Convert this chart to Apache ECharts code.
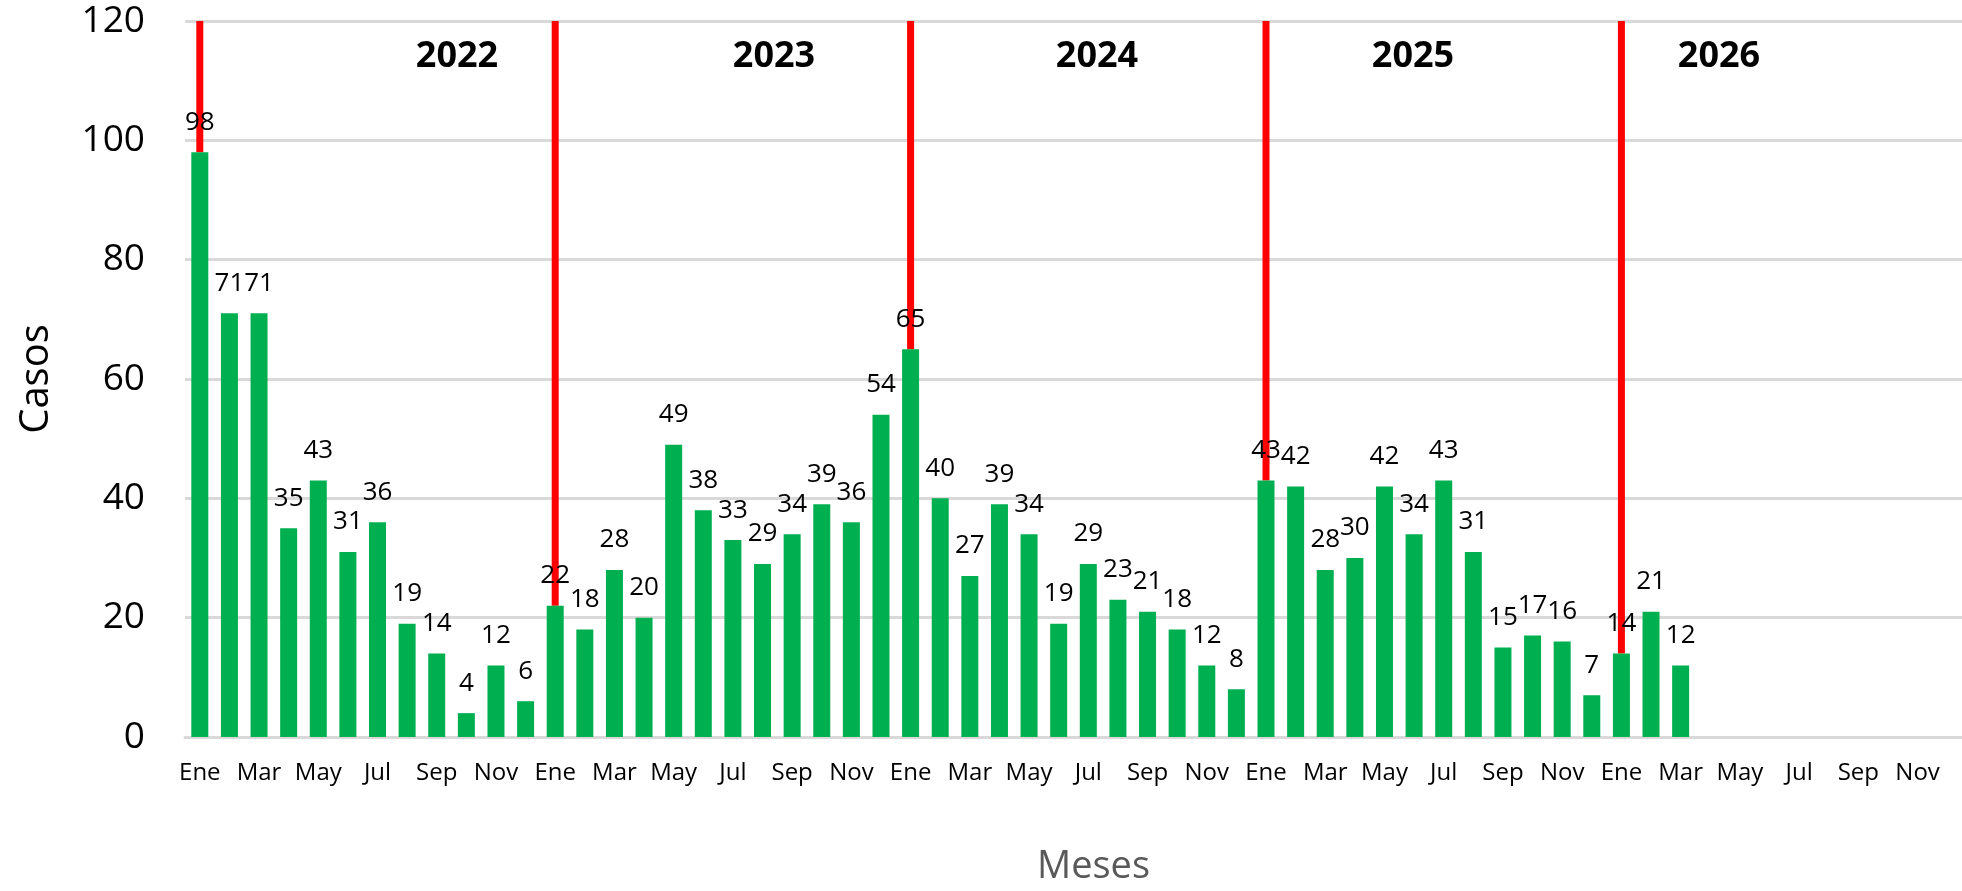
<!DOCTYPE html>
<html>
<head>
<meta charset="utf-8">
<script src="https://cdn.jsdelivr.net/npm/echarts@6/dist/echarts.min.js"></script>
<style>
html,body{margin:0;padding:0;background:#fff;}
#chart{width:1962px;height:891px;}
</style>
</head>
<body>
<div id="chart"></div>
<script>
// ---- data ----
const monthNames = ['Ene','Feb','Mar','Abr','May','Jun','Jul','Ago','Sep','Oct','Nov','Dic'];
const years = ['2022','2023','2024','2025','2026'];
const casos2022 = [98, 71, 71, 35, 43, 31, 36, 19, 14, 4, 12, 6];
const casos2023 = [22, 18, 28, 20, 49, 38, 33, 29, 34, 39, 36, 54];
const casos2024 = [65, 40, 27, 39, 34, 19, 29, 23, 21, 18, 12, 8];
const casos2025 = [43, 42, 28, 30, 42, 34, 43, 31, 15, 17, 16, 7];
const casos2026 = [14, 21, 12];
const yTicks = [0, 20, 40, 60, 80, 100, 120];

// ---- derived ----
const categories = [];
years.forEach(() => monthNames.forEach(m => categories.push(m)));
const values = [].concat(casos2022, casos2023, casos2024, casos2025, casos2026);
// year separators at each "Ene"
const yearStarts = years.map((y, i) => i * 12);
const sepData = yearStarts.map(i => [i, values[i]]);

// ---- layout (annotation placement, pixels) ----
const yearLabelX = [457, 774, 1097, 1413, 1719];
const yearLabelY = 57;
const FONT = '"Open Sans", "Noto Sans", sans-serif';

const chart = echarts.init(document.getElementById('chart'), null, {renderer: 'canvas'});
const option = {
  backgroundColor: '#ffffff',
  animation: false,
  grid: {left: 185, top: 21, width: 1785, height: 720, containLabel: false},
  xAxis: {
    type: 'category',
    data: categories,
    name: 'Meses',
    nameLocation: 'middle',
    nameGap: 111,
    nameTextStyle: {fontSize: 38, color: '#595959', fontFamily: FONT, padding: [0, 0, 0, 40]},
    axisLine: {show: true, lineStyle: {color: '#d9d9d9', width: 3}},
    axisTick: {show: false},
    axisLabel: {interval: 1, fontSize: 24, color: '#000', fontFamily: FONT, margin: 24},
    splitLine: {show: false}
  },
  yAxis: {
    type: 'value',
    min: yTicks[0],
    max: yTicks[yTicks.length - 1],
    interval: yTicks[1] - yTicks[0],
    name: 'Casos',
    nameLocation: 'middle',
    nameGap: 128,
    nameRotate: 90,
    nameTextStyle: {fontSize: 40, color: '#000', fontFamily: FONT},
    axisLine: {show: false},
    axisTick: {show: false},
    axisLabel: {fontSize: 37, color: '#000', fontFamily: FONT, margin: 40},
    splitLine: {show: true, lineStyle: {color: '#d9d9d9', width: 3}}
  },
  series: [
    {
      type: 'custom',
      z: 1,
      silent: true,
      encode: {x: 0, y: 1},
      data: sepData,
      renderItem: function (params, api) {
        const idx = api.value(0);
        const v = api.value(1);
        const top = api.coord([idx, yTicks[yTicks.length - 1]]);
        const bot = api.coord([idx, v]);
        return {
          type: 'rect',
          shape: {x: top[0] - 3.5, y: top[1], width: 7, height: bot[1] - top[1]},
          style: {fill: '#ff0000'}
        };
      }
    },
    {
      type: 'bar',
      z: 2,
      data: values,
      barWidth: 17,
      itemStyle: {color: '#00b050'},
      label: {
        show: true,
        position: 'top',
        distance: 17,
        fontSize: 26,
        color: '#000',
        fontFamily: FONT
      }
    }
  ],
  graphic: years.map((y, i) => ({
    type: 'text',
    x: yearLabelX[i],
    y: yearLabelY,
    z: 10,
    style: {
      text: y,
      align: 'center',
      verticalAlign: 'middle',
      fontSize: 36,
      fontWeight: 'bold',
      fontFamily: FONT,
      fill: '#000'
    }
  }))
};
chart.setOption(option);
</script>
</body>
</html>
